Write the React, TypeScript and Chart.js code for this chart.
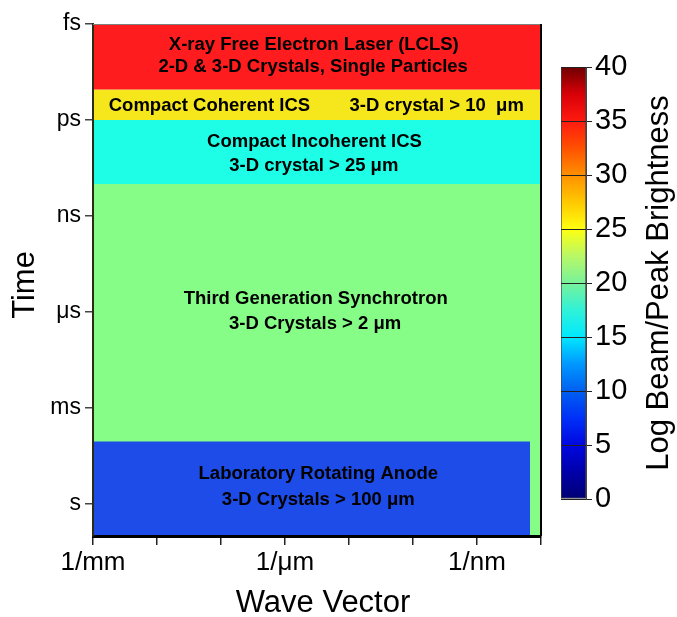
import React, { useEffect, useRef } from "react";
import { Chart, registerables } from "chart.js";

Chart.register(...registerables);

const FONT = "'Liberation Sans', Arial, Helvetica, sans-serif";

// ---- axes (log10 wave vector in 1/m, log10 time in s) ----
const xTickValues = [3, 4, 5, 6, 7, 8, 9, 10];
const xTickLabels: Record<number, string> = { 3: "1/mm", 6: "1/\u03bcm", 9: "1/nm" };
const yTickValues = [-15, -12, -9, -6, -3, 0];
const yTickLabels: Record<number, string> = { [-15]: "fs", [-12]: "ps", [-9]: "ns", [-6]: "\u03bcs", [-3]: "ms", 0: "s" };
const xMin = 3;
const xMax = 10;
const yMin = -15;
const yMax = 1;

// ---- source regions ----
const bandNames = [
  "Laboratory Rotating Anode",
  "X-ray Free Electron Laser",
  "Compact Coherent ICS",
  "Compact Incoherent ICS",
  "Third Generation Synchrotron",
];
const bandColors = ["#1d4ce8", "#fe1c1e", "#f6e61c", "#1efde6", "#86fd86"];
const bandXStart = [3, 3, 3, 3, 3];
const bandXEnd = [9.83, 10, 10, 10, 10];
const bandTimeTop = [-1.95, -15, -12.95, -12, -10];
const bandTimeBottom = [1, -12.95, -12, -10, 1];

// ---- text inside regions ----
const labelTexts = [
  "X-ray Free Electron Laser (LCLS)",
  "2-D & 3-D Crystals, Single Particles",
  "Compact Coherent ICS",
  "3-D crystal > 10  \u03bcm",
  "Compact Incoherent ICS",
  "3-D crystal > 25 \u03bcm",
  "Third Generation Synchrotron",
  "3-D Crystals > 2 \u03bcm",
  "Laboratory Rotating Anode",
  "3-D Crystals > 100 \u03bcm",
];
const labelX = [6.45, 6.44, 4.82, 8.37, 6.46, 6.45, 6.48, 6.47, 6.52, 6.52];
const labelY = [-14.34, -13.67, -12.45, -12.45, -11.33, -10.55, -6.42, -5.64, -0.94, -0.125];

// ---- colour bar ----
const cbMin = 0;
const cbMax = 40;
const cbStep = 5;
const cbStops: [number, string][] = [
  [0, "#000072"],
  [2.5, "#0000aa"],
  [5, "#0008e0"],
  [7.5, "#0030f8"],
  [10, "#0060f0"],
  [12.5, "#0098ff"],
  [15, "#00e8ff"],
  [17.5, "#30f2d8"],
  [20, "#78f29a"],
  [22.5, "#b8f866"],
  [25, "#ffff10"],
  [27.5, "#ffc800"],
  [30, "#ff9000"],
  [32.5, "#ff5000"],
  [35, "#ff1a10"],
  [37.5, "#d80008"],
  [40, "#6e0000"],
];

const W = 677;
const H = 617;

const mainOverlay = {
  id: "mainOverlay",
  afterDatasetsDraw(chart: any) {
    const { ctx, scales } = chart;
    ctx.save();
    ctx.fillStyle = "#000";
    ctx.font = `bold 18.5px ${FONT}`;
    ctx.textAlign = "center";
    ctx.textBaseline = "middle";
    labelTexts.forEach((t, i) => {
      ctx.fillText(t, scales.x.getPixelForValue(labelX[i]), scales.y.getPixelForValue(labelY[i]));
    });
    ctx.restore();
  },
  afterDraw(chart: any) {
    const { ctx, chartArea } = chart;
    ctx.save();
    ctx.strokeStyle = "#808080";
    ctx.lineWidth = 1;
    ctx.beginPath();
    ctx.moveTo(chartArea.left, chartArea.top + 0.5);
    ctx.lineTo(chartArea.right, chartArea.top + 0.5);
    ctx.stroke();
    ctx.strokeStyle = "#000";
    ctx.lineWidth = 2;
    ctx.beginPath();
    ctx.moveTo(chartArea.right, chartArea.top);
    ctx.lineTo(chartArea.right, chartArea.bottom);
    ctx.stroke();
    // axis titles
    ctx.fillStyle = "#000";
    ctx.font = `31px ${FONT}`;
    ctx.textAlign = "center";
    ctx.textBaseline = "middle";
    ctx.fillText("Wave Vector", 323, 603.5);
    ctx.translate(25.5, 285);
    ctx.rotate(-Math.PI / 2);
    ctx.fillText("Time", 0, 0);
    ctx.restore();
  },
};

const cbOverlay = {
  id: "cbOverlay",
  afterDraw(chart: any) {
    const { ctx } = chart;
    ctx.save();
    ctx.fillStyle = "#000";
    ctx.font = `31px ${FONT}`;
    ctx.textAlign = "center";
    ctx.textBaseline = "middle";
    ctx.translate(118, 283);
    ctx.rotate(-Math.PI / 2);
    ctx.fillText("Log Beam/Peak Brightness", 0, 0);
    ctx.restore();
  },
};

export default function App() {
  const mainRef = useRef<HTMLCanvasElement>(null);
  const cbRef = useRef<HTMLCanvasElement>(null);

  useEffect(() => {
    Chart.defaults.font.family = FONT;
    Chart.defaults.color = "#000";

    const datasets = bandNames.map((name, i) => ({
      label: name,
      data: [
        { x: bandXStart[i], y: bandTimeBottom[i] },
        { x: bandXEnd[i], y: bandTimeBottom[i] },
      ],
      backgroundColor: bandColors[i],
      borderColor: bandColors[i],
      borderWidth: 0,
      pointRadius: 0,
      tension: 0,
      fill: { target: { value: bandTimeTop[i] } },
    }));

    const main = new Chart(mainRef.current!, {
      type: "line",
      data: { datasets },
      options: {
        animation: false,
        responsive: false,
        events: [],
        layout: { padding: { top: 24, right: W - 541, left: 0, bottom: 0 } },
        plugins: { legend: { display: false }, tooltip: { enabled: false }, title: { display: false } },
        scales: {
          x: {
            type: "linear",
            position: "bottom",
            min: xMin,
            max: xMax,
            afterBuildTicks: (s: any) => {
              s.ticks = xTickValues.map((v) => ({ value: v }));
            },
            afterFit: (s: any) => {
              s.height = H - 536;
            },
            ticks: {
              autoSkip: false,
              maxRotation: 0,
              padding: 2,
              color: "#000",
              font: { size: 26, family: FONT },
              callback: (v: any) => xTickLabels[v as number] ?? "",
            },
            grid: { drawOnChartArea: false, drawTicks: true, tickLength: 9, color: "#222", lineWidth: 1.5 },
            border: { display: true, color: "#000", width: 3, z: 1 },
          },
          y: {
            type: "linear",
            position: "left",
            reverse: true,
            min: yMin,
            max: yMax,
            afterBuildTicks: (s: any) => {
              s.ticks = yTickValues.map((v) => ({ value: v }));
            },
            afterFit: (s: any) => {
              s.width = 93;
            },
            ticks: {
              autoSkip: false,
              padding: 4,
              color: "#000",
              font: { size: 23, family: FONT },
              callback: (v: any) => yTickLabels[v as number] ?? "",
            },
            grid: { drawOnChartArea: false, drawTicks: true, tickLength: 8, color: "#444", lineWidth: 1.5 },
            border: { display: true, color: "#2c2c14", width: 2, z: 1 },
          },
        },
      },
      plugins: [mainOverlay],
    } as any);

    const cb = new Chart(cbRef.current!, {
      type: "bar",
      data: {
        labels: ["brightness"],
        datasets: [
          {
            label: "Log Beam/Peak Brightness",
            data: [[cbMin, cbMax]],
            backgroundColor: (c: any) => {
              const chart = c.chart;
              const ys = chart.scales.y;
              if (!chart.chartArea || !ys) return "#888";
              const g = chart.ctx.createLinearGradient(0, ys.getPixelForValue(cbMin), 0, ys.getPixelForValue(cbMax));
              cbStops.forEach(([v, col]) => g.addColorStop((v - cbMin) / (cbMax - cbMin), col));
              return g;
            },
            borderColor: "#444",
            borderWidth: 1,
            borderSkipped: false,
            barPercentage: 1,
            categoryPercentage: 1,
          },
        ],
      },
      options: {
        animation: false,
        responsive: false,
        events: [],
        layout: { padding: { left: 20, top: 67, bottom: H - 499, right: 0 } },
        plugins: { legend: { display: false }, tooltip: { enabled: false } },
        scales: {
          x: { display: false },
          y: {
            type: "linear",
            position: "right",
            min: cbMin,
            max: cbMax,
            afterFit: (s: any) => {
              s.width = 136 - 45;
            },
            ticks: { stepSize: cbStep, padding: 3, color: "#000", font: { size: 29, family: FONT } },
            grid: { drawOnChartArea: true, drawTicks: true, tickLength: 6, color: "#222", lineWidth: 1, z: 1 },
            border: { display: true, color: "#444", width: 1, z: 1 },
          },
        },
      },
      plugins: [cbOverlay],
    } as any);

    return () => {
      main.destroy();
      cb.destroy();
    };
  }, []);

  return (
    <div style={{ position: "fixed", left: 0, top: 0, width: W, height: H, background: "#fff", overflow: "hidden" }}>
      <canvas ref={mainRef} width={W} height={H} style={{ position: "absolute", left: 0, top: 0, width: W, height: H }} />
      <canvas ref={cbRef} width={136} height={H} style={{ position: "absolute", left: 541, top: 0, width: 136, height: H }} />
    </div>
  );
}
